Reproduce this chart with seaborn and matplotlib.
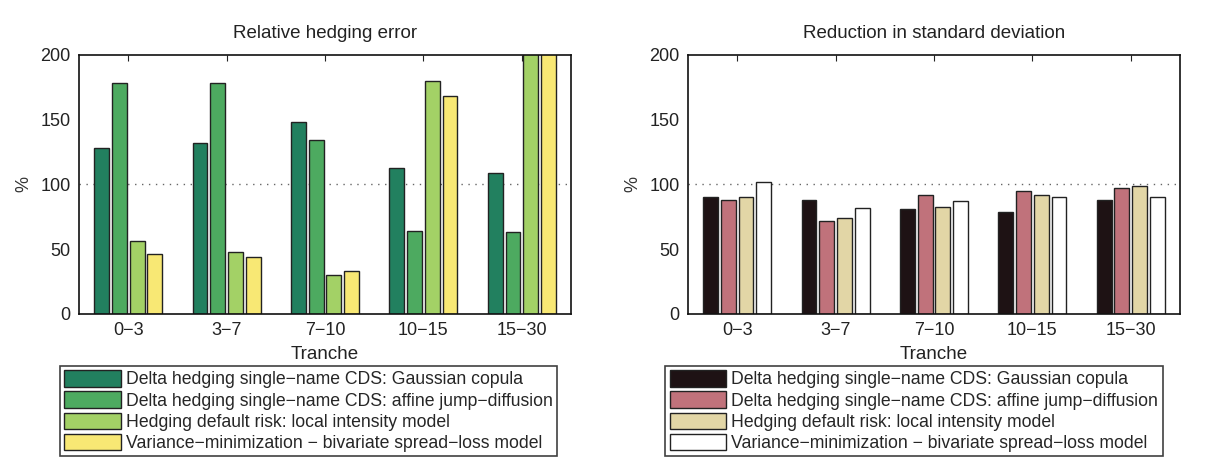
import pandas as pd
import matplotlib.pyplot as plt
import seaborn as sns

tranches = ['0\u22123', '3\u22127', '7\u221210', '10\u221215', '15\u221230']
methods = ['Delta hedging single\u2212name CDS: Gaussian copula',
           'Delta hedging single\u2212name CDS: affine jump\u2212diffusion',
           'Hedging default risk: local intensity model',
           'Variance\u2212minimization \u2212 bivariate spread\u2212loss model']

# relative hedging error (%), last two bars of 15-30 run off the top
gauss_err = [128, 132, 148, 113, 109]
affine_err = [178, 178, 134, 64, 63]
local_err = [56, 48, 30, 180, 240]
varmin_err = [46, 44, 33, 168, 230]

# reduction in standard deviation (%)
gauss_sd = [90, 88, 81, 79, 88]
affine_sd = [88, 72, 92, 95, 97]
local_sd = [90.5, 74.5, 82.5, 92, 99]
varmin_sd = [102, 82, 87, 90, 90]

green_cols = ['#22805f', '#4daa60', '#a3d166', '#f8e874']
red_cols = ['#1e1214', '#c0727b', '#e2d6a6', '#ffffff']

sns.set_style('white')
plt.rcParams['font.family'] = ['Liberation Sans', 'DejaVu Sans']
plt.rcParams['font.size'] = 13


def make_df(series):
    rows = []
    for m, vals in zip(methods, series):
        for t, v in zip(tranches, vals):
            rows.append({'Tranche': t, 'Method': m, 'Value': v})
    return pd.DataFrame(rows)


panels = [
    ('Relative hedging error', make_df([gauss_err, affine_err, local_err, varmin_err]), green_cols),
    ('Reduction in standard deviation', make_df([gauss_sd, affine_sd, local_sd, varmin_sd]), red_cols),
]

fig = plt.figure(figsize=(12.1, 4.74), dpi=100)
lefts = [0.0653, 0.5686]
leg_x = [0.467, 0.459]

for (title, df, cols), left, lx in zip(panels, lefts, leg_x):
    ax = fig.add_axes([left, 0.3376, 0.4066, 0.5464])
    sns.barplot(data=df, x='Tranche', y='Value', hue='Method', order=tranches,
                hue_order=methods, palette=dict(zip(methods, cols)), width=0.72,
                gap=0.16, edgecolor='#222222', linewidth=1.0, saturation=1,
                errorbar=None, ax=ax)
    ax.axhline(100, color='#666666', linestyle=(0, (1, 4)), linewidth=1.0, zorder=0)
    ax.set_ylim(0, 200)
    ax.set_xlim(-0.5, 4.5)
    ax.set_yticks([0, 50, 100, 150, 200])
    ax.set_title(title, fontsize=13.5, pad=12, color='#222222')
    ax.set_xlabel('Tranche', fontsize=13.5, labelpad=5, color='#222222')
    ax.set_ylabel('%', fontsize=13, labelpad=6, color='#333333')
    ax.tick_params(direction='in', length=4, width=0.8, top=True, right=True,
                   labelsize=13, colors='#222222', pad=6)
    ax.tick_params(axis='y', right=False)
    for sp in ax.spines.values():
        sp.set_color('#111111')
        sp.set_linewidth(1.2)
    handles, labels = ax.get_legend_handles_labels()
    ax.legend(handles, labels, loc='upper center', bbox_to_anchor=(lx, -0.2),
              frameon=True, fancybox=False, edgecolor='#111111', fontsize=12.7,
              handlelength=3.2, handleheight=1.05, labelspacing=0.17,
              handletextpad=0.3, borderpad=0.25, borderaxespad=0)
    ax.get_legend().get_frame().set_linewidth(1.2)

fig.savefig('out.png', dpi=100)
